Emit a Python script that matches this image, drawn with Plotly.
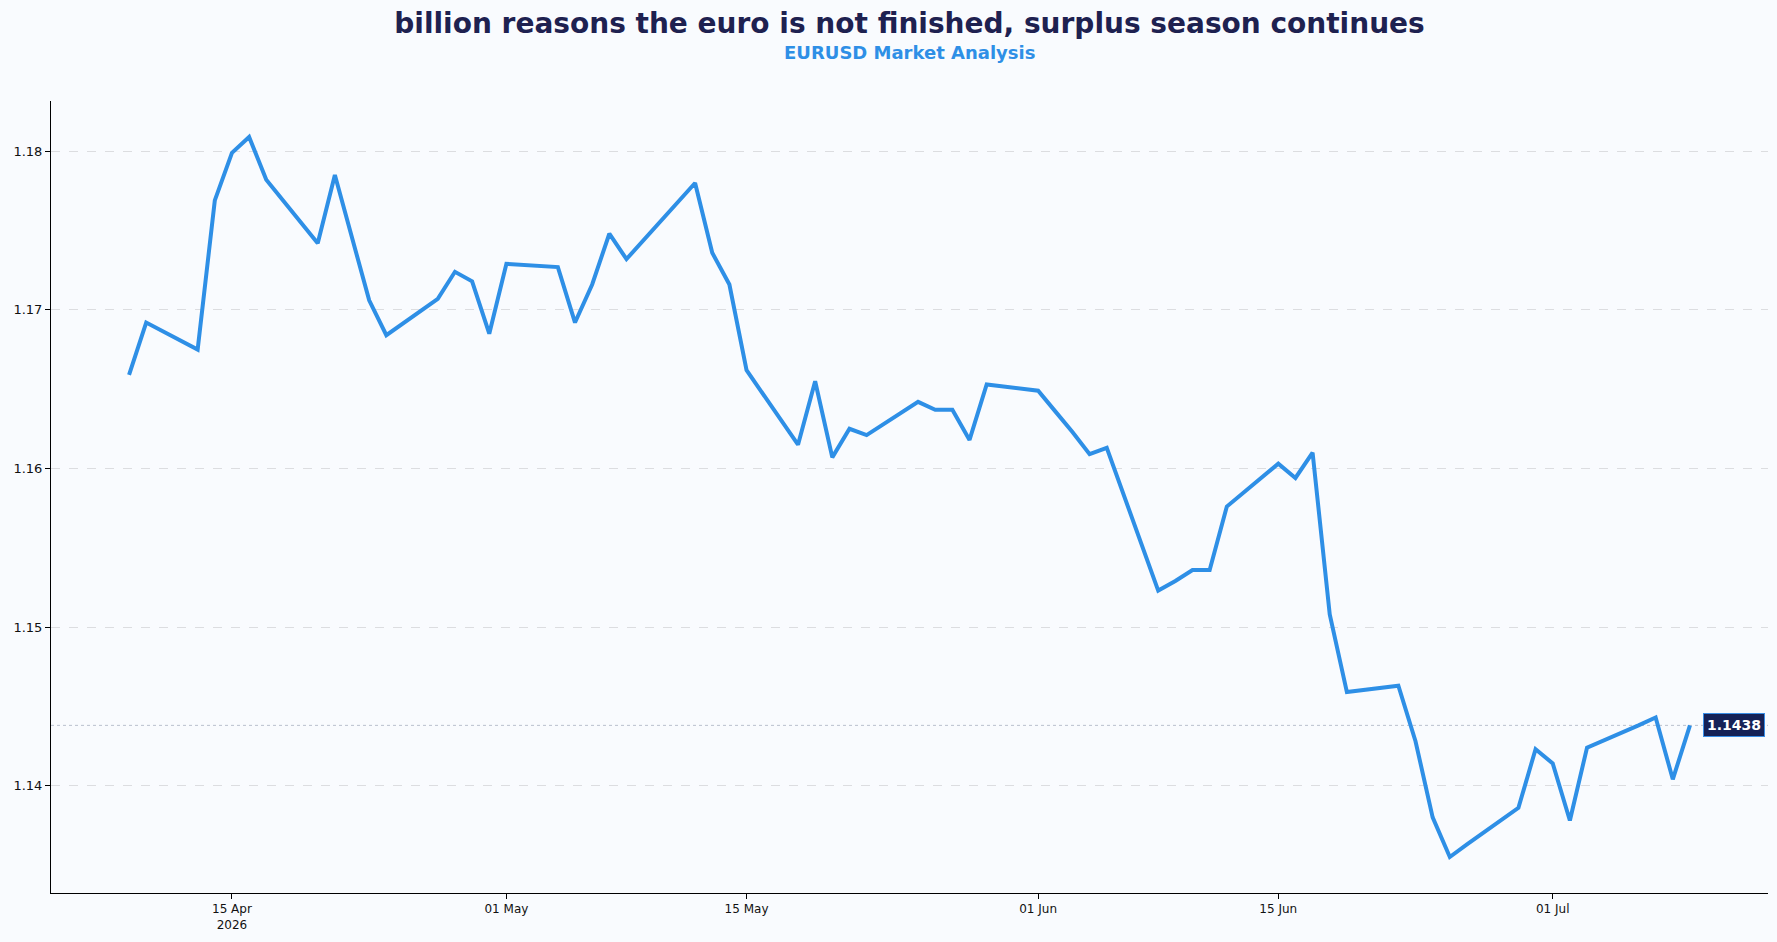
import plotly.graph_objects as go
from datetime import datetime

dates = [
    "2026-04-09", "2026-04-10", "2026-04-13", "2026-04-14", "2026-04-15", "2026-04-16", "2026-04-17",
    "2026-04-20", "2026-04-21", "2026-04-22", "2026-04-23", "2026-04-24",
    "2026-04-27", "2026-04-28", "2026-04-29", "2026-04-30", "2026-05-01",
    "2026-05-04", "2026-05-05", "2026-05-06", "2026-05-07", "2026-05-08",
    "2026-05-11", "2026-05-12", "2026-05-13", "2026-05-14", "2026-05-15",
    "2026-05-18", "2026-05-19", "2026-05-20", "2026-05-21", "2026-05-22",
    "2026-05-25", "2026-05-26", "2026-05-27", "2026-05-28", "2026-05-29",
    "2026-06-01", "2026-06-02", "2026-06-03", "2026-06-04", "2026-06-05",
    "2026-06-08", "2026-06-09", "2026-06-10", "2026-06-11", "2026-06-12",
    "2026-06-15", "2026-06-16", "2026-06-17", "2026-06-18", "2026-06-19",
    "2026-06-22", "2026-06-23", "2026-06-24", "2026-06-25", "2026-06-26",
    "2026-06-29", "2026-06-30", "2026-07-01", "2026-07-02", "2026-07-03",
    "2026-07-06", "2026-07-07", "2026-07-08", "2026-07-09",
]

eurusd = [
    1.1659, 1.1692, 1.1675, 1.1769, 1.1799, 1.1809, 1.1782,
    1.1742, 1.1785, 1.1745, 1.1706, 1.1684,
    1.1707, 1.1724, 1.1718, 1.1685, 1.1729,
    1.1727, 1.1692, 1.1716, 1.1748, 1.1732,
    1.1768, 1.1780, 1.1736, 1.1716, 1.1662,
    1.1615, 1.1655, 1.1607, 1.1625, 1.1621,
    1.1642, 1.1637, 1.1637, 1.1618, 1.1653,
    1.1649, 1.1636, 1.1623, 1.1609, 1.1613,
    1.1523, 1.1529, 1.1536, 1.1536, 1.1576,
    1.1603, 1.1594, 1.1610, 1.1508, 1.1459,
    1.1463, 1.1428, 1.1380, 1.1355, 1.1363,
    1.1386, 1.1423, 1.1414, 1.1378, 1.1424,
    1.1438, 1.1443, 1.1404, 1.1438,
]

xtick_vals = ["2026-04-15", "2026-05-01", "2026-05-15", "2026-06-01", "2026-06-15", "2026-07-01"]
xtick_text = ["15 Apr<br>2026", "01 May", "15 May", "01 Jun", "15 Jun", "01 Jul"]
ytick_vals = [1.14, 1.15, 1.16, 1.17, 1.18]

title_text = "billion reasons the euro is not finished, surplus season continues"
subtitle_text = "EURUSD Market Analysis"

BG = "#F9FBFE"
LINE = "#2E8FE6"
NAVY = "#1E2150"

# axis ranges with 5% margins (matplotlib-like)
d0 = datetime.fromisoformat(dates[0])
d1 = datetime.fromisoformat(dates[-1])
span = d1 - d0
xr = [d0 - span * 0.05, d1 + span * 0.05]
ymin, ymax = min(eurusd), max(eurusd)
yr = [ymin - 0.05 * (ymax - ymin), ymax + 0.05 * (ymax - ymin)]

fig = go.Figure()
fig.add_trace(go.Scatter(
    x=dates, y=eurusd, mode="lines",
    line=dict(color=LINE, width=4),
    hoverinfo="x+y", showlegend=False,
))

last = eurusd[-1]
fig.add_shape(type="line", xref="paper", x0=0, x1=1, yref="y", y0=last, y1=last,
              line=dict(color="#B9C0CE", width=1, dash="dot"), layer="below")

fig.add_annotation(
    x=dates[-1], y=last, xref="x", yref="y", text=f"<b>{last:.4f}</b>",
    showarrow=False, xanchor="left", yanchor="middle", xshift=13,
    bgcolor="#162257", bordercolor="#3A8EE6", borderwidth=1, borderpad=3,
    font=dict(family="DejaVu Sans", size=14, color="white"),
)

fig.add_annotation(
    text=f"<b>{subtitle_text}</b>", xref="paper", yref="paper",
    x=0.5, y=1, yshift=49, xanchor="center", yanchor="middle", showarrow=False,
    font=dict(family="DejaVu Sans", size=18, color="#2E8FE6"),
)

fig.update_layout(
    width=1777, height=942,
    paper_bgcolor=BG, plot_bgcolor=BG,
    margin=dict(l=51, r=9, t=101, b=49),
    font=dict(family="DejaVu Sans", size=13, color="#111111"),
    title=dict(
        text=f"<b>{title_text}</b>",
        x=0.5, xanchor="center", xref="paper", y=0.975, yanchor="middle",
        font=dict(family="DejaVu Sans", size=28, color=NAVY),
    ),
)

fig.update_xaxes(
    range=xr, tickvals=xtick_vals, ticktext=xtick_text,
    showgrid=False, zeroline=False,
    showline=True, linecolor="#000000", linewidth=1,
    ticks="outside", ticklen=5, tickcolor="#000000", tickwidth=1,
    tickfont=dict(size=12, color="#111111"),
)
fig.update_yaxes(
    range=yr, tickvals=ytick_vals, tickformat=".2f",
    showgrid=True, gridcolor="#DCDDE0", gridwidth=0.8, griddash="dash",
    zeroline=False,
    showline=True, linecolor="#000000", linewidth=1,
    ticks="outside", ticklen=5, tickcolor="#000000", tickwidth=1,
    tickfont=dict(size=13, color="#111111"),
)

fig.write_html("out.html")
